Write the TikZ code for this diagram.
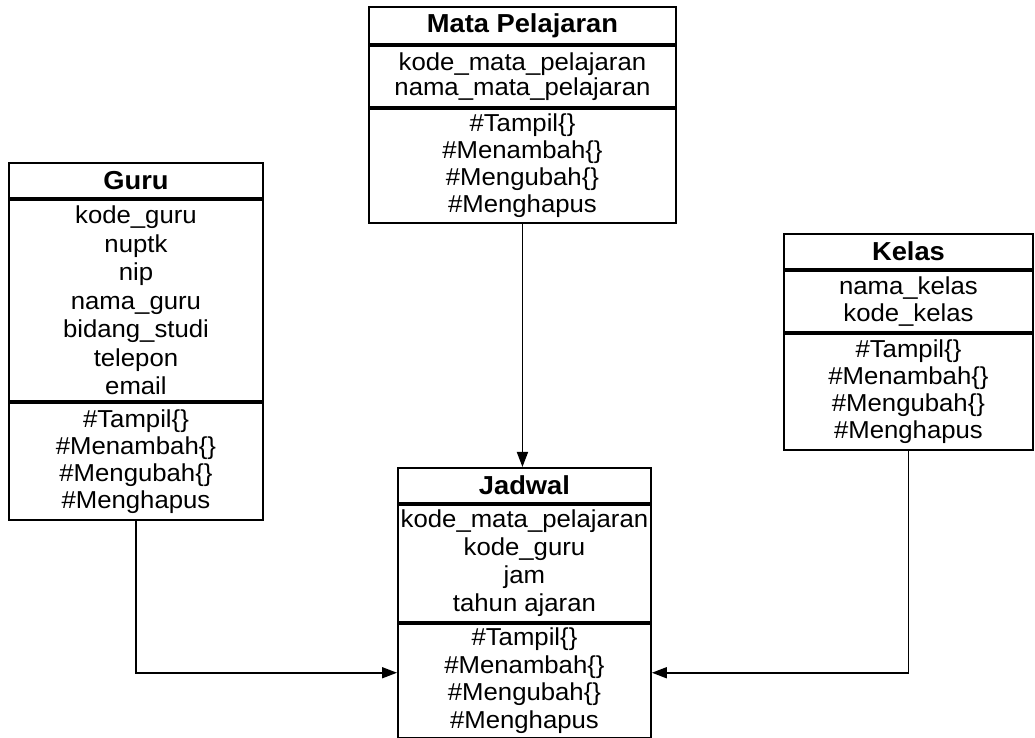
\documentclass[tikz,border=0pt]{standalone}
\usepackage{fontspec}
\setmainfont[FakeStretch=1.05]{Liberation Sans}
\usetikzlibrary{arrows.meta}
\begin{document}
\begin{tikzpicture}[x=1pt,y=1pt,
  part/.style={draw=black, line width=1.9pt, inner sep=0pt, align=center,
    anchor=north west, font=\fontsize{24.5}{27}\selectfont},
  head/.style={part, font=\fontsize{26}{28}\selectfont\bfseries},
  link/.style={draw=black, line width=1.7pt, -{Triangle[length=15pt,width=11pt]}}]
\useasboundingbox (0,0) rectangle (1035,738);

% Mata Pelajaran
\node[head, minimum width=307pt, minimum height=37pt] (mp-t) at (368,732) {Mata Pelajaran};
\node[part, minimum width=307pt, minimum height=61pt, font=\fontsize{24.5}{25}\selectfont] (mp-a) at (mp-t.south west)
  {kode\_mata\_pelajaran\\nama\_mata\_pelajaran};
\node[part, minimum width=307pt, minimum height=114pt] (mp-m) at (mp-a.south west)
  {\#Tampil\{\}\\\#Menambah\{\}\\\#Mengubah\{\}\\\#Menghapus};

% Guru
\node[head, minimum width=254pt, minimum height=35pt] (guru-t) at (8,576) {Guru};
\node[part, minimum width=254pt, minimum height=201pt, font=\fontsize{24.5}{28.5}\selectfont] (guru-a) at (guru-t.south west)
  {kode\_guru\\nuptk\\nip\\nama\_guru\\bidang\_studi\\telepon\\email};
\node[part, minimum width=254pt, minimum height=117pt] (guru-m) at (guru-a.south west)
  {\#Tampil\{\}\\\#Menambah\{\}\\\#Mengubah\{\}\\\#Menghapus};

% Kelas
\node[head, minimum width=249pt, minimum height=35pt] (kelas-t) at (783,505) {Kelas};
\node[part, minimum width=249pt, minimum height=61pt] (kelas-a) at (kelas-t.south west)
  {nama\_kelas\\kode\_kelas};
\node[part, minimum width=249pt, minimum height=116pt] (kelas-m) at (kelas-a.south west)
  {\#Tampil\{\}\\\#Menambah\{\}\\\#Mengubah\{\}\\\#Menghapus};

% Jadwal
\node[head, minimum width=253pt, minimum height=35pt] (jad-t) at (397,271) {Jadwal};
\node[part, minimum width=253pt, minimum height=117pt, font=\fontsize{24.5}{28}\selectfont] (jad-a) at (jad-t.south west)
  {kode\_mata\_pelajaran\\kode\_guru\\jam\\tahun ajaran};
\node[part, minimum width=253pt, minimum height=114pt, font=\fontsize{24.5}{27.7}\selectfont] (jad-m) at (jad-a.south west)
  {\#Tampil\{\}\\\#Menambah\{\}\\\#Mengubah\{\}\\\#Menghapus};

% Associations
\draw[link] (mp-m.south) -- (mp-m.south |- jad-t.north);
\draw[link] (guru-m.south) |- ([yshift=8pt]jad-m.west);
\draw[link] (kelas-m.south) |- ([yshift=8pt]jad-m.east);
\end{tikzpicture}
\end{document}
